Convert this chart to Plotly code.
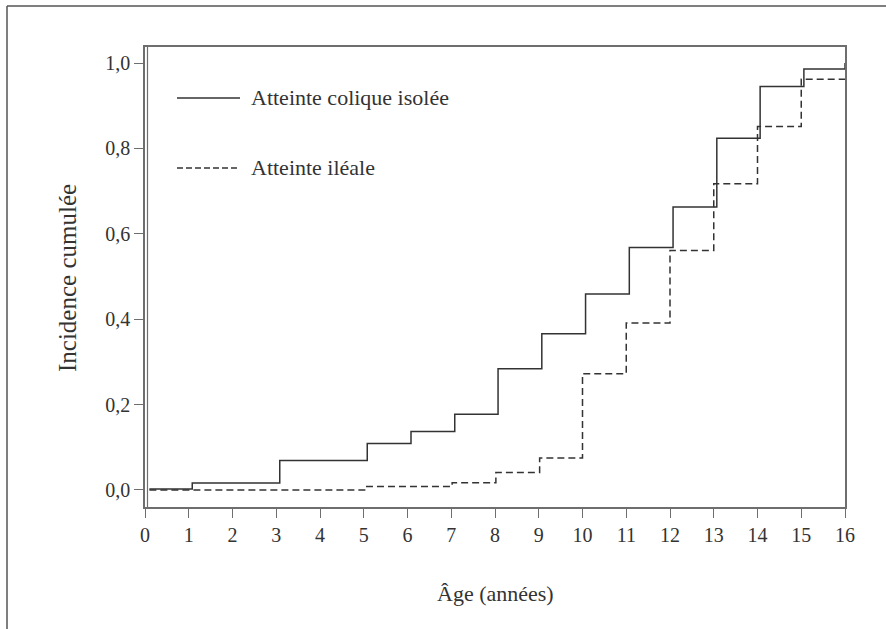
import plotly.graph_objects as go

# Data (cumulative incidence step curves)
colique_ages = [0.1, 1.08, 3.08, 5.08, 6.08, 7.08, 8.07, 9.07, 10.07, 11.07, 12.07, 13.07, 14.06, 15.06, 16.0]
colique_vals = [0.002, 0.016, 0.069, 0.109, 0.137, 0.177, 0.284, 0.366, 0.459, 0.568, 0.663, 0.824, 0.945, 0.986, 1.0]

ileale_ages = [0.1, 5.02, 7.02, 8.02, 9.02, 10.0, 11.0, 12.0, 13.0, 14.0, 15.0, 16.0]
ileale_vals = [0.0, 0.008, 0.017, 0.041, 0.075, 0.272, 0.391, 0.561, 0.717, 0.851, 0.962, 0.962]

x_ticks = list(range(0, 17))
y_ticks = [0.0, 0.2, 0.4, 0.6, 0.8, 1.0]
y_ticktext = ["0,0", "0,2", "0,4", "0,6", "0,8", "1,0"]

series_names = ["Atteinte colique isolée", "Atteinte iléale"]
x_title = "Âge (années)"
y_title = "Incidence cumulée"

FONT = "Liberation Serif"
LINE = "#333333"
AXIS = "#6e6e6e"

fig = go.Figure()
fig.add_trace(go.Scatter(x=colique_ages, y=colique_vals, mode="lines", line_shape="hv",
                         line=dict(color=LINE, width=1.5), name=series_names[0], showlegend=False))
fig.add_trace(go.Scatter(x=ileale_ages, y=ileale_vals, mode="lines", line_shape="hv",
                         line=dict(color=LINE, width=1.5, dash="7px,4px"), name=series_names[1], showlegend=False))

# plot area: x 145..845 px, y 47..507 px
L, R, T, B = 145, 845, 47, 507
W, H = R - L, B - T
def px(x): return (x - L) / W
def py(y): return (B - y) / H

shapes = []
# outer frame (top and left)
shapes.append(dict(type="line", xref="paper", yref="paper", x0=px(7), x1=px(900), y0=py(6), y1=py(6),
                   line=dict(color="#555555", width=1.5)))
shapes.append(dict(type="line", xref="paper", yref="paper", x0=px(7), x1=px(7), y0=py(6), y1=py(640),
                   line=dict(color="#555555", width=1.5)))
# double left axis line
shapes.append(dict(type="line", xref="paper", yref="paper", x0=px(147.5), x1=px(147.5), y0=0, y1=1,
                   line=dict(color=AXIS, width=1.2)))
# legend samples
shapes.append(dict(type="line", xref="paper", yref="paper", x0=px(177), x1=px(240), y0=py(98), y1=py(98),
                   line=dict(color=LINE, width=1.3)))
shapes.append(dict(type="line", xref="paper", yref="paper", x0=px(177), x1=px(240), y0=py(168), y1=py(168),
                   line=dict(color=LINE, width=1.3, dash="6px,3px")))

annotations = [
    dict(xref="paper", yref="paper", x=px(249), y=py(97), xanchor="left", yanchor="middle",
         text=series_names[0], showarrow=False, font=dict(family=FONT, size=22, color="#333")),
    dict(xref="paper", yref="paper", x=px(249), y=py(167), xanchor="left", yanchor="middle",
         text=series_names[1], showarrow=False, font=dict(family=FONT, size=22, color="#333")),
    dict(xref="paper", yref="paper", x=px(495), y=py(593), xanchor="center", yanchor="middle",
         text=x_title, showarrow=False, font=dict(family=FONT, size=22, color="#333")),
    dict(xref="paper", yref="paper", x=px(67), y=py(278), xanchor="center", yanchor="middle",
         text=y_title, textangle=-90, showarrow=False, font=dict(family=FONT, size=25, color="#333")),
]

fig.update_layout(
    width=886, height=629,
    margin=dict(l=L, r=886 - R, t=T, b=629 - B),
    paper_bgcolor="white", plot_bgcolor="white",
    font=dict(family=FONT, size=20, color="#333"),
    shapes=shapes, annotations=annotations,
    showlegend=False,
)
fig.update_xaxes(range=[0, 16], tickvals=x_ticks, ticks="outside", ticklen=9, tickwidth=1.2,
                 tickcolor=AXIS, showline=True, linecolor=AXIS, linewidth=1.5, mirror=True,
                 showgrid=False, zeroline=False, tickfont=dict(family=FONT, size=20, color="#333"))
fig.update_yaxes(range=[-0.04, 1.0375], tickvals=y_ticks, ticktext=y_ticktext, ticks="outside",
                 ticklen=9, tickwidth=1.2, tickcolor=AXIS, showline=True, linecolor=AXIS, linewidth=1.5,
                 mirror=True, showgrid=False, zeroline=False,
                 tickfont=dict(family=FONT, size=20, color="#333"))

fig.write_html("out.html", config={"displayModeBar": False},
               post_script="document.body.style.margin='0px';document.body.style.overflow='hidden';")
